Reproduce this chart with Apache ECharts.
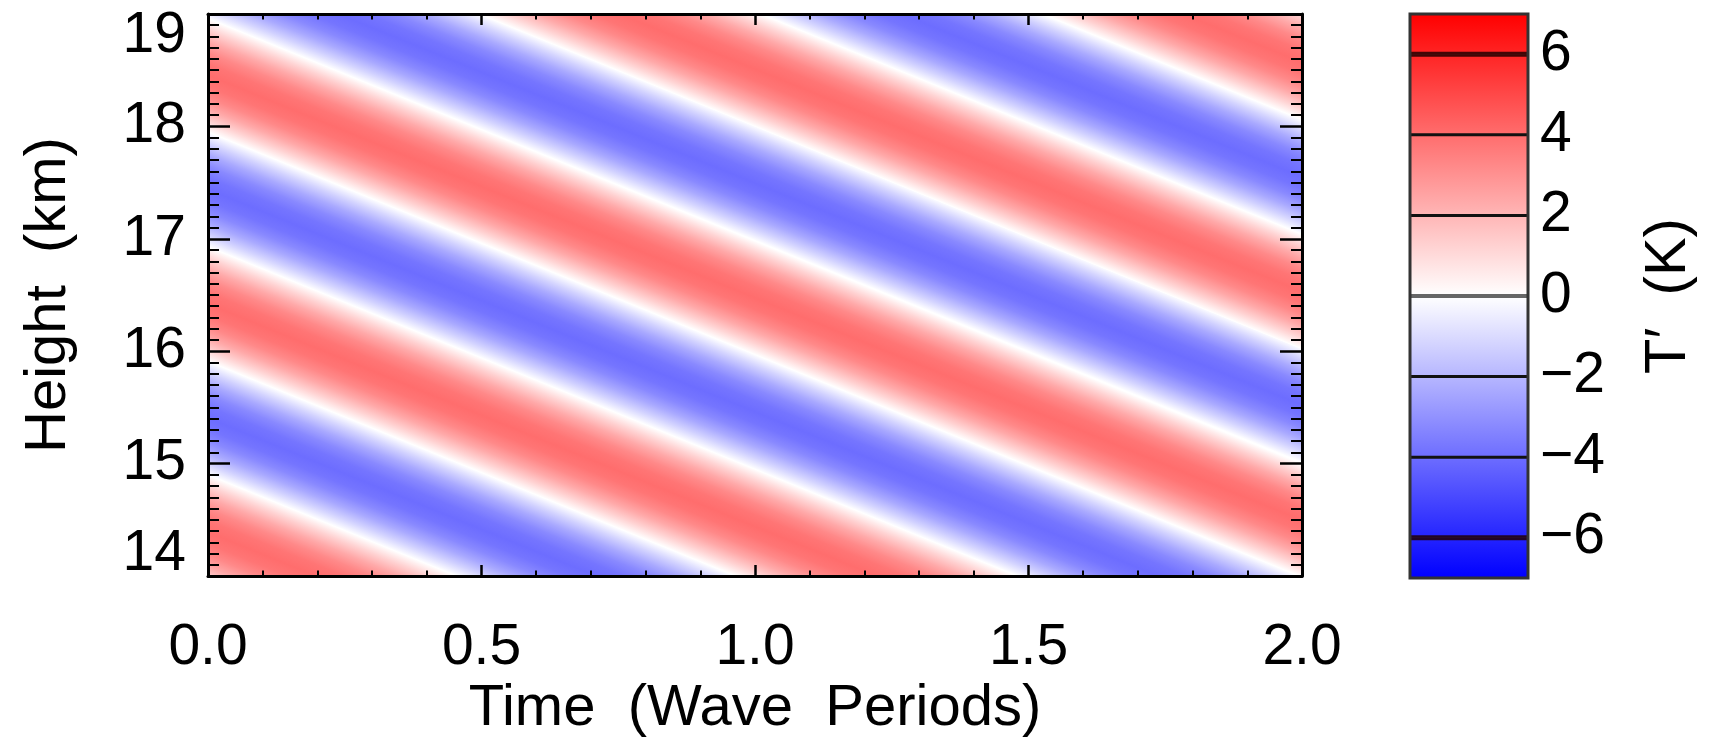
<!DOCTYPE html>
<html><head><meta charset="utf-8">
<script src="https://cdn.jsdelivr.net/npm/echarts@6/dist/echarts.min.js"></script>
<style>html,body{margin:0;padding:0;background:#fff}#c{width:1713px;height:749px}</style>
</head><body><div id="c"></div>
<script>
// ---- data ----
const timeTicks = [0, 0.5, 1, 1.5, 2];
const timeTickLabels = ['0.0', '0.5', '1.0', '1.5', '2.0'];
const heightTicks = [14, 15, 16, 17, 18, 19];
const heightTickLabels = ['14', '15', '16', '17', '18', '19'];
// Heights (km) of the white T'=0 lines at t = 0 and at t = 2 wave periods (lines followed past the frame)
const zeroHeightAtStart = [13.88, 14.90, 15.91, 16.93, 17.95, 18.96, 19.98, 21.00, 22.02, 23.04];
const zeroHeightAtEnd   = [ 9.92, 10.94, 11.95, 12.97, 13.99, 15.01, 16.02, 17.04, 18.06, 19.08];
// sign of T' in each band between successive zero lines
const bandSign = [1, -1, 1, -1, 1, -1, 1, -1, 1];
// peak |T'| (K) in each band
const bandPeak = [4, 4, 4, 4, 4, 4, 4, 4, 4];
// relative |T'| across a band, from one zero line to the next (evenly spaced)
const bandProfile = [0, 0.31, 0.59, 0.81, 0.95, 1.0, 0.95, 0.81, 0.59, 0.31, 0];
// colour bar
const colorBarLevels = [-7, -6, -4, -2, 0, 2, 4, 6, 7];
const colorBarTicks = [-6, -4, -2, 0, 2, 4, 6];
const colorBarTickLabels = ['\u22126', '\u22124', '\u22122', '0', '2', '4', '6'];

// ---- styling helpers ----
function tColor(v) {
  const f = Math.max(0, Math.min(1, Math.abs(v) / 7));
  const c = Math.round(255 * (1 - f));
  return v >= 0 ? 'rgb(255,' + c + ',' + c + ')' : 'rgb(' + c + ',' + c + ',255)';
}
const FONT = 'Liberation Sans, Arial, Helvetica, sans-serif';
const FS = 57;

const bandData = bandSign.map((s, k) => [
  zeroHeightAtStart[k], zeroHeightAtEnd[k], zeroHeightAtStart[k + 1], zeroHeightAtEnd[k + 1], s, bandPeak[k]
]);
const barData = colorBarLevels.slice(0, -1).map((lo, i) => [lo, colorBarLevels[i + 1]]);

function renderBand(params, api) {
  const t0 = timeTicks[0], t1 = timeTicks[timeTicks.length - 1];
  const p0 = api.coord([t0, api.value(0)]), p1 = api.coord([t1, api.value(1)]);
  const q0 = api.coord([t0, api.value(2)]), q1 = api.coord([t1, api.value(3)]);
  const sign = api.value(4), peak = api.value(5);
  let dx = p1[0] - p0[0], dy = p1[1] - p0[1];
  const L = Math.hypot(dx, dy); dx /= L; dy /= L;
  const nx = -dy, ny = dx;
  const w = (q0[0] - p0[0]) * nx + (q0[1] - p0[1]) * ny;
  const n = bandProfile.length - 1;
  const stops = bandProfile.map((r, i) => ({ offset: i / n, color: tColor(sign * peak * r) }));
  return {
    type: 'polygon',
    shape: { points: [p0, p1, q1, q0] },
    style: {
      fill: new echarts.graphic.LinearGradient(p0[0], p0[1], p0[0] + w * nx, p0[1] + w * ny, stops, true),
      stroke: null
    }
  };
}
function renderBar(params, api) {
  const lo = api.value(0), hi = api.value(1);
  const a = api.coord([0, hi]), b = api.coord([1, lo]);
  return {
    type: 'rect',
    shape: { x: a[0], y: a[1], width: b[0] - a[0], height: b[1] - a[1] },
    style: {
      fill: new echarts.graphic.LinearGradient(0, a[1], 0, b[1],
        [{ offset: 0, color: tColor(hi) }, { offset: 1, color: tColor(lo) }], true),
      stroke: null
    }
  };
}
function renderLevel(params, api) {
  const v = api.value(0);
  const a = api.coord([0, v]), b = api.coord([1, v]);
  const edge = Math.abs(v) === 6;
  return {
    type: 'line',
    shape: { x1: a[0], y1: a[1], x2: b[0], y2: b[1] },
    style: { stroke: v === 0 ? '#666' : (edge ? '#220000' : '#111'), lineWidth: v === 0 ? 4 : (edge ? 5 : 3), opacity: edge ? 0.85 : 1 }
  };
}
function renderFrame(params, api) {
  const a = api.coord([0, colorBarLevels[colorBarLevels.length - 1]]);
  const b = api.coord([1, colorBarLevels[0]]);
  return {
    type: 'rect',
    shape: { x: a[0], y: a[1], width: b[0] - a[0], height: b[1] - a[1] },
    style: { fill: null, stroke: '#333', lineWidth: 3 }
  };
}

const tickStyle = { color: '#000', width: 2.5 };
function xAxisCfg(pos, showLabels) {
  return {
    gridIndex: 0, type: 'value', position: pos, z: 10,
    min: timeTicks[0], max: timeTicks[timeTicks.length - 1], interval: timeTicks[1] - timeTicks[0],
    axisLine: { show: true, onZero: false, lineStyle: { color: '#000', width: 3 } },
    axisTick: { show: true, inside: true, length: 11, lineStyle: tickStyle },
    minorTick: { show: true, splitNumber: 5, length: 5.5, lineStyle: { color: '#000', width: 2 } },
    splitLine: { show: false }, minorSplitLine: { show: false },
    axisLabel: {
      show: showLabels, fontFamily: FONT, fontSize: FS, color: '#000', margin: 44,
      showMinLabel: true, showMaxLabel: true,
      formatter: v => { const i = timeTicks.findIndex(t => Math.abs(t - v) < 1e-9); return i < 0 ? '' : timeTickLabels[i]; }
    },
    name: showLabels ? 'Time  (Wave  Periods)' : '', nameLocation: 'middle', nameGap: 104, nameMoveOverlap: false,
    nameTextStyle: { fontFamily: FONT, fontSize: 58, color: '#000' }
  };
}
function yAxisCfg(pos, showLabels) {
  return {
    gridIndex: 0, type: 'value', position: pos, z: 10,
    min: heightTicks[0], max: heightTicks[heightTicks.length - 1], interval: heightTicks[1] - heightTicks[0],
    axisLine: { show: true, onZero: false, lineStyle: { color: '#000', width: 3 } },
    axisTick: { show: true, inside: true, length: 22, lineStyle: tickStyle },
    minorTick: { show: true, splitNumber: 10, length: 11, lineStyle: { color: '#000', width: 2 } },
    splitLine: { show: false }, minorSplitLine: { show: false },
    axisLabel: {
      show: showLabels, fontFamily: FONT, fontSize: FS, color: '#000', margin: 22, lineHeight: 44,
      showMinLabel: true, showMaxLabel: true,
      verticalAlignMinLabel: 'bottom', verticalAlignMaxLabel: 'top',
      formatter: v => { const i = heightTicks.findIndex(t => Math.abs(t - v) < 1e-9); return i < 0 ? '' : heightTickLabels[i]; }
    },
    name: showLabels ? 'Height  (km)' : '', nameLocation: 'middle', nameGap: 130, nameMoveOverlap: false,
    nameTextStyle: { fontFamily: FONT, fontSize: 58, color: '#000' }
  };
}

const option = {
  animation: false,
  backgroundColor: '#fff',
  grid: [
    { left: 208, top: 14, width: 1094, height: 562, outerBoundsMode: 'none', containLabel: false },
    { left: 1410, top: 14, width: 118, height: 564, outerBoundsMode: 'none', containLabel: false }
  ],
  xAxis: [
    xAxisCfg('bottom', true),
    xAxisCfg('top', false),
    { gridIndex: 1, type: 'value', min: 0, max: 1, show: false }
  ],
  yAxis: [
    yAxisCfg('left', true),
    yAxisCfg('right', false),
    {
      gridIndex: 1, type: 'value', position: 'right', z: 10,
      min: colorBarLevels[0], max: colorBarLevels[colorBarLevels.length - 1], interval: 1,
      axisLine: { show: false, onZero: false }, axisTick: { show: false }, splitLine: { show: false },
      axisLabel: {
        fontFamily: FONT, fontSize: FS, color: '#000', margin: 12, showMinLabel: true, showMaxLabel: true,
        formatter: v => { const i = colorBarTicks.findIndex(t => Math.abs(t - v) < 1e-9); return i < 0 ? '' : colorBarTickLabels[i]; }
      },
      name: 'T\u2032  (K)', nameLocation: 'middle', nameRotate: 90, nameGap: 112, nameMoveOverlap: false,
      nameTextStyle: { fontFamily: FONT, fontSize: 58, color: '#000' }
    }
  ],
  series: [
    { type: 'custom', name: 'T prime', coordinateSystem: 'cartesian2d', xAxisIndex: 0, yAxisIndex: 0,
      clip: true, z: 1, renderItem: renderBand, data: bandData, silent: true },
    { type: 'custom', name: 'colour bar', coordinateSystem: 'cartesian2d', xAxisIndex: 2, yAxisIndex: 2,
      z: 1, renderItem: renderBar, data: barData, silent: true },
    { type: 'custom', name: 'levels', coordinateSystem: 'cartesian2d', xAxisIndex: 2, yAxisIndex: 2,
      z: 2, renderItem: renderLevel, data: colorBarTicks.map(v => [v]), silent: true },
    { type: 'custom', name: 'frame', coordinateSystem: 'cartesian2d', xAxisIndex: 2, yAxisIndex: 2,
      z: 3, renderItem: renderFrame, data: [[0]], silent: true }
  ]
};
const chart = echarts.init(document.getElementById('c'), null, { renderer: 'canvas' });
chart.setOption(option);
</script></body></html>
